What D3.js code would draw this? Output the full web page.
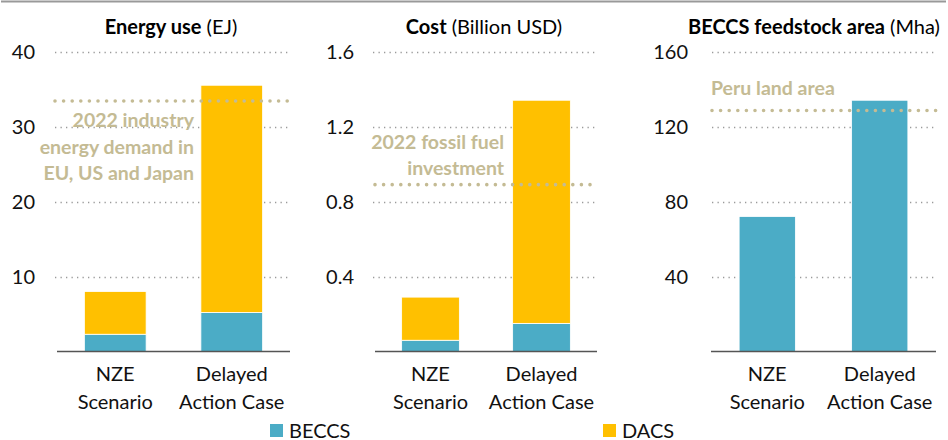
<!DOCTYPE html>
<html>
<head>
<meta charset="utf-8">
<script src="https://cdn.jsdelivr.net/npm/d3@7/dist/d3.min.js"></script>
<style>
  html, body { margin: 0; padding: 0; background: #fff; }
  svg { display: block; font-family: Lato, "Open Sans", sans-serif; }
</style>
</head>
<body>
<svg id="chart" width="948" height="440"></svg>
<script>
// Scenario categories (two-line labels)
const categories = ["NZE Scenario", "Delayed Action Case"];
const categoryLines = [["NZE", "Scenario"], ["Delayed", "Action Case"]];

// Energy use (EJ)
const energyBECCS = [2.3, 5.2];
const energyDACS = [5.7, 30.3];
const energyTicks = [10, 20, 30, 40];
const energyRef = 33.4;
const energyRefLabel = ["2022 industry", "energy demand in", "EU, US and Japan"];

// Cost (Billion USD)
const costBECCS = [0.06, 0.15];
const costDACS = [0.23, 1.19];
const costTicks = [0.4, 0.8, 1.2, 1.6];
const costRef = 0.89;
const costRefLabel = ["2022 fossil fuel", "investment"];

// BECCS feedstock area (Mha)
const areaBECCS = [72, 134];
const areaTicks = [40, 80, 120, 160];
const areaRef = 128.5;
const areaRefLabel = ["Peru land area"];

const seriesNames = ["BECCS", "DACS"];
const colors = { BECCS: "#4BACC6", DACS: "#FFC000" };
const refColor = "#C4BB94";

const svg = d3.select("#chart");

// frame rule across the top
svg.append("line")
  .attr("x1", 1).attr("x2", 946).attr("y1", 1.5).attr("y2", 1.5)
  .attr("stroke", "#999").attr("stroke-width", 2);

const panels = [
  {
    titleBold: "Energy use", titleUnit: " (EJ)", titleX: 171,
    x0: 57, x1: 290, gridX0: 55, tickX: 35, max: 40, ticks: energyTicks,
    fmt: d3.format("d"), pad: 0.47,
    series: { BECCS: energyBECCS, DACS: energyDACS },
    ref: energyRef, refX0: 55, refX1: 290,
    refLabel: energyRefLabel, refAnchor: "end", refLabelX: 194, refLabelY: 127, refLineGap: 26.5
  },
  {
    titleBold: "Cost", titleUnit: " (Billion USD)", titleX: 484,
    x0: 375, x1: 597, gridX0: 373, tickX: 354, max: 1.6, ticks: costTicks,
    fmt: d3.format(".1f"), pad: 0.48,
    series: { BECCS: costBECCS, DACS: costDACS },
    ref: costRef, refX0: 375, refX1: 593,
    refLabel: costRefLabel, refAnchor: "end", refLabelX: 504, refLabelY: 149, refLineGap: 26
  },
  {
    titleBold: "BECCS feedstock area", titleUnit: " (Mha)", titleX: 814,
    x0: 711, x1: 936, gridX0: 712, tickX: 688, max: 160, ticks: areaTicks,
    fmt: d3.format("d"), pad: 0.5,
    series: { BECCS: areaBECCS },
    ref: areaRef, refX0: 712, refX1: 937,
    refLabel: areaRefLabel, refAnchor: "start", refLabelX: 711, refLabelY: 95, refLineGap: 26
  }
];

const yTop = 51.5, yBase = 351.5;

panels.forEach(p => {
  const g = svg.append("g");
  const x = d3.scaleBand().domain(categories).range([p.x0, p.x1])
    .paddingInner(p.pad).paddingOuter(p.pad / 2);
  const y = d3.scaleLinear().domain([0, p.max]).range([yBase, yTop]);

  // title
  const t = g.append("text")
    .attr("x", p.titleX).attr("y", 34)
    .attr("text-anchor", "middle")
    .attr("font-size", 20).attr("fill", "#000");
  t.append("tspan").attr("font-weight", 700).text(p.titleBold);
  t.append("tspan").text(p.titleUnit);

  // dotted gridlines
  g.selectAll(".grid").data(p.ticks).join("line")
    .attr("x1", p.gridX0).attr("x2", p.x1 + 1)
    .attr("y1", d => Math.round(y(d)) + 0.5).attr("y2", d => Math.round(y(d)) + 0.5)
    .attr("stroke", "#9a9a9a").attr("stroke-width", 1.3)
    .attr("stroke-dasharray", "1.3 4.2");

  // tick labels
  g.selectAll(".tick").data(p.ticks).join("text")
    .attr("x", p.tickX).attr("y", d => y(d))
    .attr("dy", "0.35em").attr("text-anchor", "end")
    .attr("font-size", 20).attr("fill", "#111")
    .text(p.fmt);

  // stacked bars
  const keys = seriesNames.filter(k => p.series[k]);
  const rows = categories.map((c, i) => {
    const r = { cat: c };
    keys.forEach(k => r[k] = p.series[k][i]);
    return r;
  });
  const stacked = d3.stack().keys(keys)(rows);
  g.selectAll(".layer").data(stacked).join("g")
    .attr("fill", d => colors[d.key])
    .selectAll("rect").data(d => d).join("rect")
      .attr("x", d => x(d.data.cat))
      .attr("width", x.bandwidth())
      .attr("y", d => y(d[1]))
      .attr("height", d => y(d[0]) - y(d[1]))
      .attr("stroke", "#fff").attr("stroke-width", 0.8);

  // baseline
  g.append("line")
    .attr("x1", p.x0).attr("x2", p.x1)
    .attr("y1", yBase).attr("y2", yBase)
    .attr("stroke", "#555").attr("stroke-width", 1.5);

  // reference line
  g.append("line")
    .attr("x1", p.refX0).attr("x2", p.refX1)
    .attr("y1", y(p.ref)).attr("y2", y(p.ref))
    .attr("stroke", refColor).attr("stroke-width", 3.6)
    .attr("stroke-linecap", "round")
    .attr("stroke-dasharray", "0 8.6");

  // reference label
  g.selectAll(".reflabel").data(p.refLabel).join("text")
    .attr("x", p.refLabelX)
    .attr("y", (d, i) => p.refLabelY + i * p.refLineGap)
    .attr("text-anchor", p.refAnchor)
    .attr("font-size", 19.5).attr("font-weight", 700)
    .attr("fill", refColor)
    .text(d => d);

  // category labels
  g.selectAll(".cat").data(categories).join("text")
    .attr("text-anchor", "middle")
    .attr("font-size", 20).attr("fill", "#111")
    .attr("x", d => x(d) + x.bandwidth() / 2)
    .selectAll("tspan").data((d, i) => categoryLines[i]).join("tspan")
      .attr("x", function() { return this.parentNode.getAttribute("x"); })
      .attr("y", (d, i) => 381 + i * 28)
      .text(d => d);
});

// legend
const legendX = [270, 603];
const lg = svg.selectAll(".legend").data(seriesNames).join("g")
  .attr("transform", (d, i) => `translate(${legendX[i]},424)`);
lg.append("rect").attr("width", 13).attr("height", 13).attr("fill", d => colors[d]);
lg.append("text").attr("x", 19).attr("y", 6.5).attr("dy", "0.35em")
  .attr("font-size", 20).attr("fill", "#111").text(d => d);
</script>
</body>
</html>
